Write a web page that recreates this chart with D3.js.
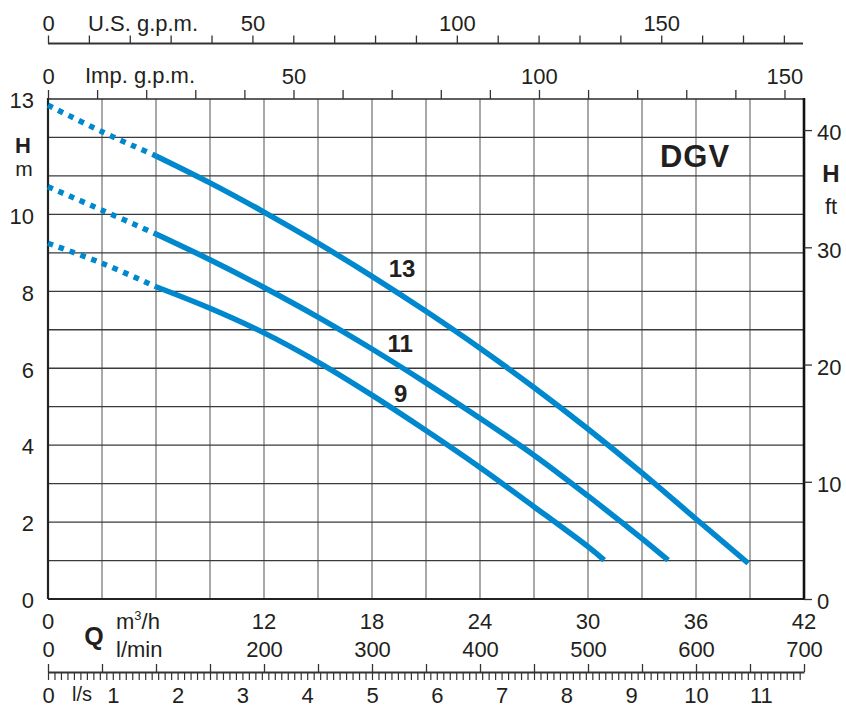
<!DOCTYPE html>
<html>
<head>
<meta charset="utf-8">
<script src="https://cdn.jsdelivr.net/npm/d3@7"></script>
<style>
  body { margin: 0; background: #fff; }
  svg { font-family: "Liberation Sans", Arial, Helvetica, sans-serif; fill: #231f20; }
  .axis text { font-size: 22px; fill: #231f20; font-family: "Liberation Sans", Arial, sans-serif; }
  .axis line, .axis path { stroke: #333; }
</style>
</head>
<body>
<div id="chart-area"></div>
<script>
// flow in m3/h, head in m
var curveNames = ["13", "11", "9"];

var dotQ = [0, 3, 6];
var dot13 = [12.84, 12.15, 11.52];
var dot11 = [10.72, 10.11, 9.49];
var dot9  = [9.25, 8.73, 8.12];

var q13 = [6, 9, 12, 15, 18, 21, 24, 27, 30, 33, 36, 38.9];
var h13 = [11.52, 10.82, 10.06, 9.25, 8.39, 7.48, 6.52, 5.50, 4.42, 3.28, 2.08, 0.93];
var q11 = [6, 9, 12, 15, 18, 21, 24, 27, 30, 33, 34.45];
var h11 = [9.49, 8.82, 8.10, 7.33, 6.50, 5.62, 4.70, 3.74, 2.68, 1.57, 1.01];
var q9  = [6, 9, 12, 15, 18, 21, 24, 27, 30, 30.9];
var h9  = [8.12, 7.56, 6.92, 6.16, 5.30, 4.38, 3.42, 2.40, 1.36, 1.01];

var mhTicks   = [0, 12, 18, 24, 30, 36, 42];
var lminTicks = [0, 200, 300, 400, 500, 600, 700];
var hmTicks   = [0, 2, 4, 6, 8, 10, 13];
var hftTicks  = [0, 10, 20, 30, 40];
var usTicks   = [0, 50, 100, 150];
var impTicks  = [0, 50, 100, 150];

var margin = { top: 99, bottom: 108, left: 48, right: 42 };
var W = 846, H = 707;
var width  = W - margin.left - margin.right;
var height = H - margin.top - margin.bottom;

var blue = "#0088cf";

var svg = d3.select("#chart-area")
    .append("svg")
        .attr("width", W)
        .attr("height", H);

var x = d3.scaleLinear().domain([0, 42]).range([margin.left, margin.left + width]);
var y = d3.scaleLinear().domain([0, 13]).range([margin.top + height, margin.top]);
var yFt = d3.scaleLinear().domain([0, 13 / 0.3048]).range(y.range());
var xUS = d3.scaleLinear().domain([0, 42 * 4.40287]).range(x.range());
var xImp = d3.scaleLinear().domain([0, 42 * 3.66615]).range(x.range());
var xLmin = d3.scaleLinear().domain([0, 700]).range(x.range());
var xLs = d3.scaleLinear().domain([0, 42 / 3.6]).range(x.range());

var x0 = x.range()[0], x1 = x.range()[1];
var yTop = y.range()[1], yBot = y.range()[0];

// grid
svg.append("g").selectAll("line")
    .data(d3.range(3, 42, 3))
    .enter().append("line")
        .attr("x1", d => x(d)).attr("x2", d => x(d))
        .attr("y1", yTop).attr("y2", yBot)
        .attr("stroke", "#7a7a7a")
        .attr("stroke-width", 1.3);

svg.append("g").selectAll("line")
    .data(d3.range(1, 13))
    .enter().append("line")
        .attr("x1", x0).attr("x2", x1)
        .attr("y1", d => y(d)).attr("y2", d => y(d))
        .attr("stroke", "#3a3a3a")
        .attr("stroke-width", 1.3);

// frame
svg.append("line").attr("x1", x0).attr("x2", x1).attr("y1", yTop).attr("y2", yTop)
    .attr("stroke", "#2a2a2a").attr("stroke-width", 1.6);
svg.append("line").attr("x1", x0).attr("x2", x1 + 1).attr("y1", yBot).attr("y2", yBot)
    .attr("stroke", "#222").attr("stroke-width", 2.2);
svg.append("line").attr("x1", x0).attr("x2", x0).attr("y1", yTop - 1).attr("y2", yBot)
    .attr("stroke", "#222").attr("stroke-width", 2.2);
svg.append("line").attr("x1", x1).attr("x2", x1).attr("y1", yTop - 1).attr("y2", yBot + 1)
    .attr("stroke", "#111").attr("stroke-width", 2.6);

// curves
var line = d3.line()
    .x(d => x(d[0]))
    .y(d => y(d[1]))
    .curve(d3.curveCatmullRom.alpha(0.5));

var dotted = [dot13, dot11, dot9];
var solidQ = [q13, q11, q9];
var solidH = [h13, h11, h9];

dotted.forEach(function(hs) {
    svg.append("path")
        .attr("d", line(dotQ.map((q, i) => [q, hs[i]])))
        .attr("fill", "none")
        .attr("stroke", blue)
        .attr("stroke-width", 5.5)
        .attr("stroke-dasharray", "5.5,6");
});

solidQ.forEach(function(qs, k) {
    svg.append("path")
        .attr("d", line(qs.map((q, i) => [q, solidH[k][i]])))
        .attr("fill", "none")
        .attr("stroke", blue)
        .attr("stroke-width", 5.5);
});

// curve labels
var labelPos = [[19.67, 8.38], [19.56, 6.43], [19.6, 5.13]];
svg.append("g").selectAll("text")
    .data(curveNames)
    .enter().append("text")
        .attr("x", (d, i) => x(labelPos[i][0]))
        .attr("y", (d, i) => y(labelPos[i][1]))
        .attr("text-anchor", "middle")
        .attr("font-size", "24px")
        .attr("font-weight", "bold")
        .text(d => d);

svg.append("text")
    .attr("x", 695).attr("y", 167)
    .attr("text-anchor", "middle")
    .attr("font-size", "31px")
    .attr("font-weight", "bold")
    .attr("letter-spacing", "1")
    .text("DGV");

// left axis (m)
var yAxisCall = d3.axisLeft(y)
    .tickValues(hmTicks)
    .tickSize(0)
    .tickPadding(14);
var gl = svg.append("g")
    .attr("class", "axis")
    .attr("transform", "translate(" + x0 + ",0)")
    .call(yAxisCall);
gl.select(".domain").remove();
gl.selectAll("text").attr("dy", "0.4em");

svg.append("text").attr("x", 23).attr("y", 153)
    .attr("text-anchor", "middle").attr("font-size", "22px").attr("font-weight", "bold").text("H");
svg.append("text").attr("x", 24).attr("y", 176)
    .attr("text-anchor", "middle").attr("font-size", "21px").text("m");

// right axis (ft)
var ftAxisCall = d3.axisRight(yFt)
    .tickValues(hftTicks)
    .tickSize(8)
    .tickPadding(5);
var gr = svg.append("g")
    .attr("class", "axis")
    .attr("transform", "translate(" + x1 + ",0)")
    .call(ftAxisCall);
gr.select(".domain").remove();
gr.selectAll("line").attr("stroke-width", 1.3);
gr.selectAll("text").attr("dy", "0.45em");

svg.append("text").attr("x", 831).attr("y", 182)
    .attr("text-anchor", "middle").attr("font-size", "24px").attr("font-weight", "bold").text("H");
svg.append("text").attr("x", 831).attr("y", 214)
    .attr("text-anchor", "middle").attr("font-size", "22px").text("ft");

// top: U.S. g.p.m.
var usAxisCall = d3.axisTop(xUS)
    .tickValues(d3.range(0, 181, 10))
    .tickSize(8)
    .tickSizeOuter(0)
    .tickPadding(5)
    .tickFormat(d => usTicks.indexOf(d) >= 0 ? d : "");
var gus = svg.append("g")
    .attr("class", "axis")
    .attr("transform", "translate(0,43.5)")
    .call(usAxisCall);
gus.select(".domain").attr("d", "M" + x0 + ",0H" + (x1 - 1)).attr("stroke-width", 2);
gus.selectAll("line").attr("stroke-width", 1.3);
svg.append("text").attr("x", 88).attr("y", 30.5).attr("font-size", "22px").text("U.S. g.p.m.");

// top: Imp. g.p.m.
var impAxisCall = d3.axisTop(xImp)
    .tickValues(d3.range(0, 151, 10))
    .tickSize(9)
    .tickSizeOuter(0)
    .tickPadding(6)
    .tickFormat(d => impTicks.indexOf(d) >= 0 ? d : "");
var gimp = svg.append("g")
    .attr("class", "axis")
    .attr("transform", "translate(0," + yTop + ")")
    .call(impAxisCall);
gimp.select(".domain").remove();
gimp.selectAll("line").attr("stroke-width", 1.3);
svg.append("text").attr("x", 85).attr("y", 83).attr("font-size", "22px").text("Imp. g.p.m.");

// bottom: m3/h labels
svg.append("g").selectAll("text")
    .data(mhTicks)
    .enter().append("text")
        .attr("x", d => x(d))
        .attr("y", 629)
        .attr("text-anchor", "middle")
        .attr("font-size", "22px")
        .text(d => d);

var mh = svg.append("text").attr("x", 116).attr("y", 629).attr("font-size", "22px");
mh.append("tspan").text("m");
mh.append("tspan").attr("font-size", "13px").attr("dy", "-9").text("3");
mh.append("tspan").attr("dy", "9").text("/h");

svg.append("text").attr("x", 94).attr("y", 645)
    .attr("text-anchor", "middle").attr("font-size", "25px").attr("font-weight", "bold").text("Q");

// bottom: l/min (ticks up from the l/s line)
var lsY = 672;
var lminAxisCall = d3.axisTop(xLmin)
    .tickValues(d3.range(0, 701, 50))
    .tickSize(8)
    .tickSizeOuter(0)
    .tickPadding(7)
    .tickFormat(d => lminTicks.indexOf(d) >= 0 ? d : "");
var glm = svg.append("g")
    .attr("class", "axis")
    .attr("transform", "translate(0," + lsY + ")")
    .call(lminAxisCall);
glm.select(".domain").attr("stroke-width", 2);
glm.selectAll("line").attr("stroke-width", 1.3);
svg.append("text").attr("x", 116).attr("y", 657).attr("font-size", "22px").text("l/min");

// bottom: l/s
var lsAxisCall = d3.axisBottom(xLs)
    .tickValues(d3.range(0, 117).map(d => d / 10))
    .tickSize(8)
    .tickSizeOuter(0)
    .tickPadding(7)
    .tickFormat(d => Math.abs(d - Math.round(d)) < 1e-9 ? Math.round(d) : "");
var gls = svg.append("g")
    .attr("class", "axis")
    .attr("transform", "translate(0," + lsY + ")")
    .call(lsAxisCall);
gls.select(".domain").remove();
gls.selectAll("line").attr("stroke-width", 1.2);
gls.selectAll("text").attr("font-size", "20px");
svg.append("text").attr("x", 72).attr("y", 701).attr("font-size", "20px").text("l/s");
</script>
</body>
</html>
